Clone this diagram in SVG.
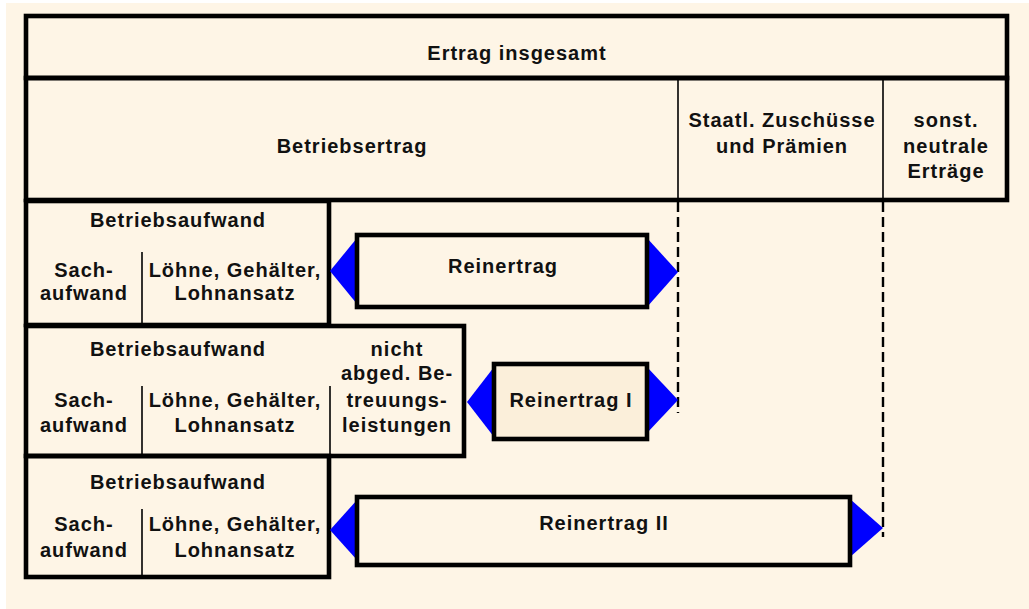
<svg xmlns="http://www.w3.org/2000/svg" width="1029" height="609" viewBox="0 0 1029 609">
<style>
.t{font-family:"Liberation Sans",Arial,sans-serif;font-weight:bold;font-size:20px;letter-spacing:1px;fill:#111;text-anchor:middle}
.thick{fill:none;stroke:#000;stroke-width:4.6}
.thin{fill:none;stroke:#000;stroke-width:1.6}
.box{fill:#FEF5E6;stroke:#000;stroke-width:4.6}
.box1{fill:#FBEFDA;stroke:#000;stroke-width:4.6}
.tri{fill:#0000FF}
.dash{fill:none;stroke:#000;stroke-width:2.4;stroke-dasharray:10 5}
</style>
<rect x="0" y="0" width="1029" height="609" fill="#FFFFFF"/>
<rect x="6" y="3" width="1023" height="606" fill="#FEF5E6"/>

<g id="connectors">
<line class="dash" x1="678" y1="202" x2="678" y2="413"/>
<line class="dash" x1="883" y1="202" x2="883" y2="537"/>
</g>

<g id="ertrag-insgesamt">
<rect class="thick" x="26" y="16" width="981" height="62"/>
<text class="t" x="517" y="60">Ertrag insgesamt</text>
</g>

<g id="betriebsertrag">
<rect class="thick" x="26" y="78" width="981" height="122"/>
<text class="t" x="352" y="153">Betriebsertrag</text>
</g>

<g id="staatl-zuschuesse">
<line class="thin" x1="678" y1="78" x2="678" y2="200"/>
<text class="t" x="782" y="127">Staatl. Zuschüsse</text>
<text class="t" x="782" y="153">und Prämien</text>
</g>

<g id="sonst-neutrale">
<line class="thin" x1="883" y1="78" x2="883" y2="200"/>
<text class="t" x="946" y="127">sonst.</text>
<text class="t" x="946" y="153">neutrale</text>
<text class="t" x="946" y="178">Erträge</text>
</g>

<g id="betriebsaufwand-1">
<rect class="thick" x="26" y="201" width="303" height="124"/>
<line class="thin" x1="142" y1="252" x2="142" y2="325"/>
<text class="t" x="178" y="227">Betriebsaufwand</text>
<text class="t" x="84" y="277">Sach-</text>
<text class="t" x="84" y="300">aufwand</text>
<text class="t" x="235" y="277">Löhne, Gehälter,</text>
<text class="t" x="235" y="300">Lohnansatz</text>
</g>

<g id="betriebsaufwand-2">
<rect class="thick" x="26" y="326" width="438" height="130"/>
<line class="thin" x1="142" y1="386" x2="142" y2="456"/>
<line class="thin" x1="330" y1="386" x2="330" y2="456"/>
<text class="t" x="178" y="356">Betriebsaufwand</text>
<text class="t" x="84" y="407">Sach-</text>
<text class="t" x="84" y="432">aufwand</text>
<text class="t" x="235" y="407">Löhne, Gehälter,</text>
<text class="t" x="235" y="432">Lohnansatz</text>
<text class="t" x="397" y="356">nicht</text>
<text class="t" x="397" y="380">abged. Be-</text>
<text class="t" x="397" y="407">treuungs-</text>
<text class="t" x="397" y="432">leistungen</text>
</g>

<g id="betriebsaufwand-3">
<rect class="thick" x="26" y="456" width="303" height="121"/>
<line class="thin" x1="142" y1="509" x2="142" y2="577"/>
<text class="t" x="178" y="489">Betriebsaufwand</text>
<text class="t" x="84" y="531">Sach-</text>
<text class="t" x="84" y="557">aufwand</text>
<text class="t" x="235" y="531">Löhne, Gehälter,</text>
<text class="t" x="235" y="557">Lohnansatz</text>
</g>

<g id="reinertrag">
<polygon class="tri" points="330,271 357,238 357,304"/>
<polygon class="tri" points="647,238 678,272 647,307"/>
<rect class="box" x="357" y="235" width="290" height="72"/>
<text class="t" x="503" y="273">Reinertrag</text>
</g>

<g id="reinertrag-1">
<polygon class="tri" points="467,402 494,367 494,437"/>
<polygon class="tri" points="647,367 678,400 647,433"/>
<rect class="box1" x="494" y="364" width="153" height="75"/>
<text class="t" x="571" y="407">Reinertrag I</text>
</g>

<g id="reinertrag-2">
<polygon class="tri" points="330,530 357,500 357,560"/>
<polygon class="tri" points="850,499 883,528 850,557"/>
<rect class="box" x="357" y="497" width="493" height="68"/>
<text class="t" x="604" y="530">Reinertrag II</text>
</g>
</svg>
